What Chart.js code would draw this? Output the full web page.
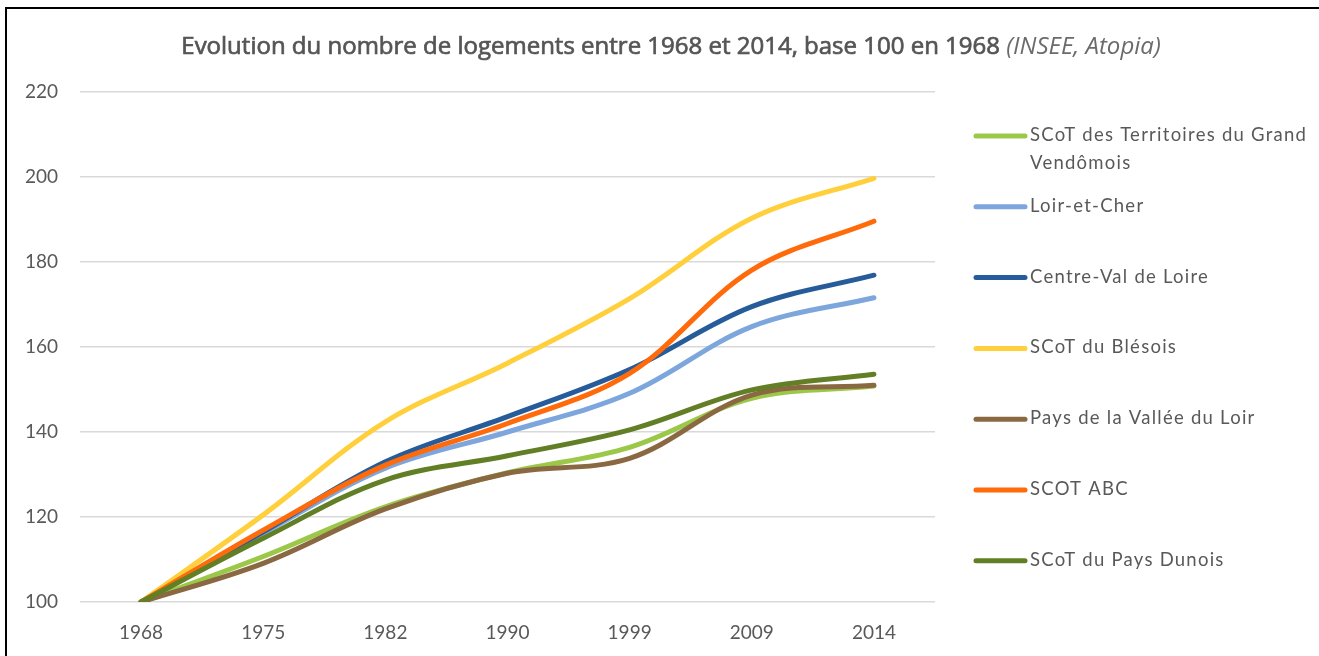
<!DOCTYPE html>
<html lang="fr">
<head>
<meta charset="utf-8">
<title>Evolution du nombre de logements</title>
<script src="https://cdn.jsdelivr.net/npm/chart.js@4"></script>
<style>
    html, body { margin: 0; padding: 0; background: #fff; overflow: hidden; }
    #wrap { position: relative; width: 1319px; height: 656px; }
    #frame {
        position: absolute; left: 5px; top: 7px; width: 1400px; height: 700px;
        border-left: 2px solid #000; border-top: 2px solid #000; pointer-events: none;
    }
</style>
</head>
<body>
<div id="wrap">
    <div id="frame"></div>
    <canvas id="chart"></canvas>
</div>
<script>
// Data
const years = ['1968', '1975', '1982', '1990', '1999', '2009', '2014'];
const yTicks = [100, 120, 140, 160, 180, 200, 220];

const grandVendomois = [100, 110.7, 122.4, 130.4, 136.4, 147.9, 150.8];
const loirEtCher     = [100, 116.2, 131.5, 140.0, 149.1, 164.8, 171.6];
const centreVal      = [100, 116.5, 133.0, 143.6, 154.7, 169.5, 176.9];
const blesois        = [100, 120.5, 142.4, 156.2, 171.4, 190.3, 199.7];
const valleeDuLoir   = [100, 109.1, 121.9, 130.3, 133.8, 148.7, 151.0];
const scotAbc        = [100, 116.9, 132.2, 142.0, 153.8, 178.1, 189.6];
const paysDunois     = [100, 115.0, 128.7, 134.4, 140.5, 149.9, 153.6];

const series = [
    { label: ['SCoT des Territoires du Grand', 'Vendômois'], data: grandVendomois, color: '#9BC848' },
    { label: ['Loir-et-Cher'], data: loirEtCher, color: '#7DA6DD' },
    { label: ['Centre-Val de Loire'], data: centreVal, color: '#275C9B' },
    { label: ['SCoT du Blésois'], data: blesois, color: '#FFD03C' },
    { label: ['Pays de la Vallée du Loir'], data: valleeDuLoir, color: '#8A6841' },
    { label: ['SCOT ABC'], data: scotAbc, color: '#FF6A0A' },
    { label: ['SCoT du Pays Dunois'], data: paysDunois, color: '#627F26' }
];

const TEXT = '#595959';
const FONT = 'Lato, "Open Sans", sans-serif';

// title with italic source, drawn on canvas
const titlePlugin = {
    id: 'mixedTitle',
    afterDraw(chart) {
        const ctx = chart.ctx;
        const main = 'Evolution du nombre de logements entre 1968 et 2014, base 100 en 1968 ';
        const src = '(INSEE, Atopia)';
        const fMain = '400 24px "Open Sans", sans-serif';
        const fSrc = 'italic 400 24px "Open Sans", sans-serif';
        ctx.save();
        ctx.textBaseline = 'alphabetic';
        ctx.font = fMain;
        const w1 = ctx.measureText(main).width;
        ctx.font = fSrc;
        const w2 = ctx.measureText(src).width;
        const x = 671 - (w1 + w2) / 2;
        // main part a little heavier, like a medium weight
        ctx.font = fMain;
        ctx.fillStyle = '#555';
        ctx.strokeStyle = '#555';
        ctx.lineWidth = 0.7;
        ctx.fillText(main, x, 54);
        ctx.strokeText(main, x, 54);
        ctx.font = fSrc;
        ctx.fillStyle = '#6b6b6b';
        ctx.fillText(src, x + w1, 54);
        ctx.restore();
    }
};

// legend on the right, one row every ~71px
const legendPlugin = {
    id: 'sideLegend',
    afterDraw(chart) {
        const ctx = chart.ctx;
        ctx.save();
        ctx.font = '18.5px ' + FONT;
        ctx.letterSpacing = '1.25px';
        ctx.textBaseline = 'middle';
        ctx.lineCap = 'round';
        series.forEach((s, i) => {
            const y = 135 + i * 70.8;
            ctx.strokeStyle = s.color;
            ctx.lineWidth = 5;
            ctx.beginPath();
            ctx.moveTo(976, y + 1);
            ctx.lineTo(1025, y + 1);
            ctx.stroke();
            ctx.fillStyle = TEXT;
            s.label.forEach((line, j) => ctx.fillText(line, 1030, y + j * 28));
        });
        ctx.restore();
    }
};

new Chart(document.getElementById('chart'), {
    type: 'line',
    data: {
        labels: years,
        datasets: series.map((s, i) => ({
            label: s.label.join(' '),
            data: s.data,
            borderColor: s.color,
            backgroundColor: s.color,
            borderWidth: 5,
            borderCapStyle: 'round',
            borderJoinStyle: 'round',
            pointRadius: 0,
            tension: 0.35,
            order: series.length - i
        }))
    },
    options: {
        responsive: true,
        maintainAspectRatio: false,
        animation: false,
        layout: { padding: { top: 92, right: 384, bottom: 0, left: 0 } },
        plugins: {
            legend: { display: false },
            title: { display: false },
            tooltip: { enabled: false }
        },
        scales: {
            x: {
                offset: true,
                grid: { display: false, drawTicks: false },
                border: { display: false },
                ticks: { color: TEXT, font: { family: FONT, size: 19 }, padding: 19, maxRotation: 0 },
                afterFit: s => { s.height = 54; }
            },
            y: {
                min: 100,
                max: 220,
                afterBuildTicks: s => { s.ticks = yTicks.map(v => ({ value: v })); },
                grid: { color: '#D9D9D9', lineWidth: 1.5, drawTicks: false },
                border: { display: false },
                ticks: { color: TEXT, font: { family: FONT, size: 19 }, padding: 22 },
                afterFit: s => { s.width = 80; }
            }
        }
    },
    plugins: [titlePlugin, legendPlugin]
});
</script>
</body>
</html>
